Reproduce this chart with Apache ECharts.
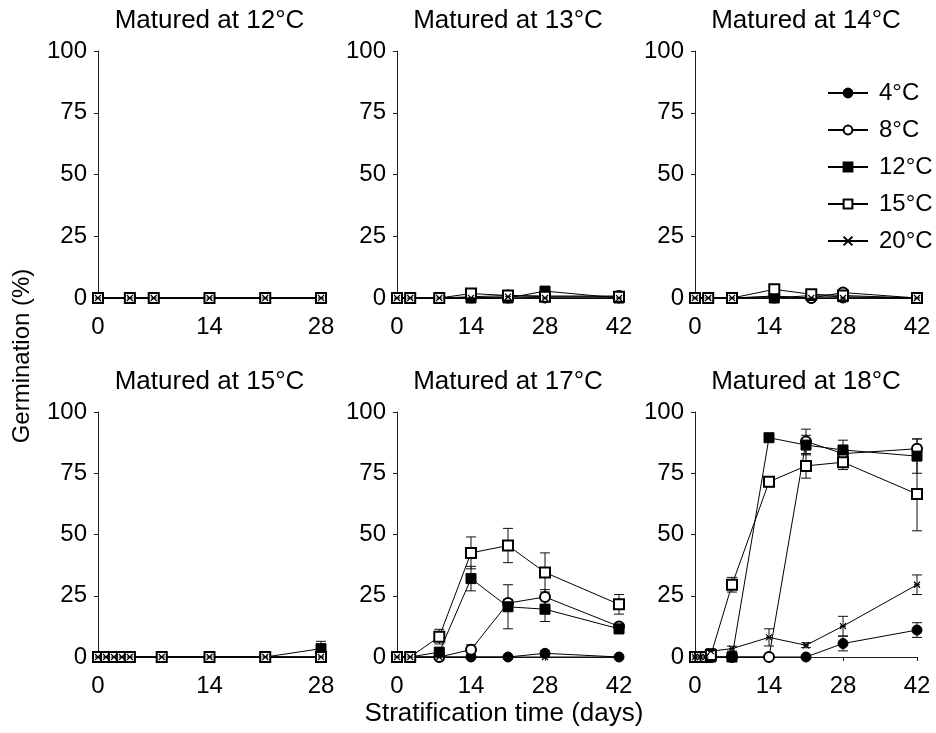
<!DOCTYPE html>
<html>
<head>
<meta charset="utf-8">
<script src="https://cdn.jsdelivr.net/npm/echarts@6/dist/echarts.min.js"></script>
<style>
  html, body { margin: 0; padding: 0; background: #fff; }
  #chart { width: 936px; height: 733px; }
</style>
</head>
<body>
<div id="chart"></div>
<script>
// Stratification temperatures (one line per temperature in every panel)
const tempNames = ['4°C', '8°C', '12°C', '15°C', '20°C'];

// Panel titles (maturation temperature)
const panelTitles = ['Matured at 12°C', 'Matured at 13°C', 'Matured at 14°C',
                     'Matured at 15°C', 'Matured at 17°C', 'Matured at 18°C'];
const xMaxes = [28, 42, 42, 28, 42, 42];
const xTicks = [0, 14, 28, 42];
const yTicks = [0, 25, 50, 75, 100];

// Matured at 12°C
const days12 = [0, 4, 7, 14, 21, 28];
const mean12 = [
  [0, 0, 0, 0, 0, 0],
  [0, 0, 0, 0, 0, 0],
  [0, 0, 0, 0, 0, 0],
  [0, 0, 0, 0, 0, 0],
  [0, 0, 0, 0, 0, 0]
];
const err12 = [
  [0, 0, 0, 0, 0, 0],
  [0, 0, 0, 0, 0, 0],
  [0, 0, 0, 0, 0, 0],
  [0, 0, 0, 0, 0, 0],
  [0, 0, 0, 0, 0, 0]
];

// Matured at 13°C
const days13 = [0, 2.5, 8, 14, 21, 28, 42];
const mean13 = [
  [0, 0, 0, 0, 0, 0, 0],
  [0, 0, 0, 0.5, 1, 0.8, 0.8],
  [0, 0, 0, 0, 0, 2.8, 0],
  [0, 0, 0, 1.8, 1, 0.5, 0.5],
  [0, 0, 0, 0, 0.5, 0, 0]
];
const err13 = [
  [0, 0, 0, 0, 0, 0, 0],
  [0, 0, 0, 0, 0, 0.8, 0],
  [0, 0, 0, 0, 0, 1, 0],
  [0, 0, 0, 1, 0.8, 0, 0],
  [0, 0, 0, 0, 0, 0, 0]
];

// Matured at 14°C
const days14 = [0, 2.5, 7, 15, 22, 28, 42];
const mean14 = [
  [0, 0, 0, 0, 0, 0, 0],
  [0, 0, 0, 0.8, 0, 2.2, 0],
  [0, 0, 0, 0, 1, 0.5, 0],
  [0, 0, 0, 3.5, 1.5, 1, 0],
  [0, 0, 0, 0.5, 0, 0, 0]
];
const err14 = [
  [0, 0, 0, 0, 0, 0, 0],
  [0, 0, 0, 0, 0, 1.2, 0],
  [0, 0, 0, 0, 0, 0, 0],
  [0, 0, 0, 1.5, 0, 0, 0],
  [0, 0, 0, 0, 0, 0, 0]
];

// Matured at 15°C
const days15 = [0, 1, 2, 3, 4, 8, 14, 21, 28];
const mean15 = [
  [0, 0, 0, 0, 0, 0, 0, 0, 0],
  [0, 0, 0, 0, 0, 0, 0, 0, 0],
  [0, 0, 0, 0, 0, 0, 0, 0, 3.4],
  [0, 0, 0, 0, 0, 0, 0, 0, 0],
  [0, 0, 0, 0, 0, 0, 0, 0, 0]
];
const err15 = [
  [0, 0, 0, 0, 0, 0, 0, 0, 0],
  [0, 0, 0, 0, 0, 0, 0, 0, 0],
  [0, 0, 0, 0, 0, 0, 0, 0, 3],
  [0, 0, 0, 0, 0, 0, 0, 0, 0],
  [0, 0, 0, 0, 0, 0, 0, 0, 0]
];

// Matured at 17°C
const days17 = [0, 2.5, 8, 14, 21, 28, 42];
const mean17 = [
  [0, 0, 0, 0, 0, 1.5, 0],
  [0, 0, 0, 3, 22, 24.5, 12.5],
  [0, 0, 2, 32, 20.5, 19.5, 11.5],
  [0, 0, 8.3, 42.5, 45.5, 34.5, 21.5],
  [0, 0, 0, 0, 0, 0, 0]
];
const err17 = [
  [0, 0, 0, 0, 0, 1, 0],
  [0, 0, 0, 2, 1.5, 3, 1],
  [0, 0, 1, 5, 9, 5, 2],
  [0, 0, 3, 6.5, 7, 8, 4],
  [0, 0, 0, 0, 0, 1, 0]
];

// Matured at 18°C
const days18 = [0, 1, 2, 3, 7, 14, 21, 28, 42];
const mean18 = [
  [0, 0, 0, 0, 0, 0, 0, 5.5, 11],
  [0, 0, 0, 0, 0, 0, 88, 83, 85],
  [0, 0, 0, 0, 0, 89.5, 86.5, 84.5, 82],
  [0, 0, 0, 0.8, 29.5, 71.5, 78, 79.5, 66.5],
  [0, 0, 0, 2.4, 3.4, 8, 4.8, 12.6, 29.5]
];
const err18 = [
  [0, 0, 0, 0, 0, 0, 0, 3, 3],
  [0, 0, 0, 0, 0, 0, 5, 3, 4],
  [0, 0, 0, 0, 0, 1.5, 4, 4, 7],
  [0, 0, 0, 0, 3, 2, 5, 3, 15],
  [0, 0, 0, 1, 1, 3.5, 1, 4, 4]
];

const panels = [
  { days: days12, mean: mean12, err: err12 },
  { days: days13, mean: mean13, err: err13 },
  { days: days14, mean: mean14, err: err14 },
  { days: days15, mean: mean15, err: err15 },
  { days: days17, mean: mean17, err: err17 },
  { days: days18, mean: mean18, err: err18 }
];

const FONT = '"Liberation Sans", Arial, Helvetica, sans-serif';
const AXIS_COLOR = '#222';

// Marker for each stratification temperature
const starPath = 'path://M0,0L10,10M10,0L0,10M0,5L10,5';
const symbolFor = ['circle', 'emptyCircle', 'rect', 'emptyRect', starPath];
const sizeFor = [10, 10, 10, 10, 6];

// Grid boxes: three columns, two rows
const colBoxes = [{ left: 98, width: 223 }, { left: 397, width: 222 }, { left: 695, width: 222 }];
const rowBoxes = [{ top: 51, height: 247 }, { top: 412, height: 245 }];

const grids = [], xAxes = [], yAxes = [], series = [], graphics = [];

panels.forEach((p, gi) => {
  const col = colBoxes[gi % 3], row = rowBoxes[Math.floor(gi / 3)];
  grids.push({ left: col.left, top: row.top, width: col.width, height: row.height, containLabel: false });

  xAxes.push({
    gridIndex: gi, type: 'value', min: 0, max: xMaxes[gi], interval: 14,
    axisLine: { show: true, onZero: false, lineStyle: { color: AXIS_COLOR, width: 1 } },
    axisTick: { show: true, length: 4, lineStyle: { color: AXIS_COLOR } },
    splitLine: { show: false },
    axisLabel: {
      color: '#000', fontSize: 24, fontFamily: FONT, margin: 17,
      formatter: v => (xTicks.indexOf(v) >= 0 ? String(v) : '')
    }
  });
  yAxes.push({
    gridIndex: gi, type: 'value', min: 0, max: 100, interval: 25,
    axisLine: { show: true, lineStyle: { color: AXIS_COLOR, width: 1 } },
    axisTick: { show: true, length: 4, lineStyle: { color: AXIS_COLOR } },
    splitLine: { show: false },
    axisLabel: {
      color: '#000', fontSize: 24, fontFamily: FONT, margin: 11,
      formatter: v => (yTicks.indexOf(v) >= 0 ? String(v) : '')
    }
  });

  // Error bars drawn beneath the lines
  tempNames.forEach((name, si) => {
    const rows = [];
    p.days.forEach((d, i) => {
      if (p.err[si][i] > 0) rows.push([d, p.mean[si][i], p.err[si][i]]);
    });
    if (!rows.length) return;
    series.push({
      type: 'custom', name: name + ' SE', xAxisIndex: gi, yAxisIndex: gi, z: 1,
      silent: true, clip: false,
      encode: { x: 0, y: 1 },
      data: rows,
      renderItem: (params, api) => {
        const x = api.value(0), y = api.value(1), e = api.value(2);
        const hi = api.coord([x, Math.min(100, y + e)]);
        const lo = api.coord([x, Math.max(0, y - e)]);
        const hw = 5;
        const st = { stroke: '#111', lineWidth: 1 };
        return {
          type: 'group',
          children: [
            { type: 'line', shape: { x1: hi[0], y1: hi[1], x2: lo[0], y2: lo[1] }, style: st },
            { type: 'line', shape: { x1: hi[0] - hw, y1: hi[1], x2: hi[0] + hw, y2: hi[1] }, style: st },
            { type: 'line', shape: { x1: lo[0] - hw, y1: lo[1], x2: lo[0] + hw, y2: lo[1] }, style: st }
          ]
        };
      }
    });
  });

  // Mean germination lines
  tempNames.forEach((name, si) => {
    series.push({
      type: 'line', name: name, xAxisIndex: gi, yAxisIndex: gi, z: 3,
      clip: false, animation: false,
      data: p.days.map((d, i) => [d, p.mean[si][i]]),
      symbol: symbolFor[si], symbolSize: sizeFor[si], showSymbol: true,
      lineStyle: { color: '#000', width: 1 },
      itemStyle: si === 4
        ? { color: '#000', borderColor: '#000', borderWidth: 1.2 }
        : { color: '#000', borderColor: '#000', borderWidth: 1 },
      emphasis: { disabled: true }
    });
  });

  graphics.push({
    type: 'text', x: col.left + col.width / 2, y: row.top - 30,
    style: { text: panelTitles[gi], fill: '#000', font: '26px ' + FONT, align: 'center', verticalAlign: 'middle' }
  });
});

graphics.push({
  type: 'text', x: 22, y: 356, rotation: Math.PI / 2,
  style: { text: 'Germination (%)', fill: '#000', font: '24px ' + FONT, align: 'center', verticalAlign: 'middle' }
});
graphics.push({
  type: 'text', x: 504, y: 714,
  style: { text: 'Stratification time (days)', fill: '#000', font: '26px ' + FONT, align: 'center', verticalAlign: 'middle' }
});

const chart = echarts.init(document.getElementById('chart'), null, { renderer: 'canvas' });
chart.setOption({
  animation: false,
  backgroundColor: '#fff',
  grid: grids,
  xAxis: xAxes,
  yAxis: yAxes,
  legend: {
    data: tempNames, orient: 'vertical', left: 822, top: 76,
    itemWidth: 40, itemHeight: 11, itemGap: 13,
    textStyle: { color: '#000', fontSize: 24, fontFamily: FONT, padding: [0, 0, 0, 6] },
    selectedMode: false
  },
  graphic: graphics,
  series: series
});
</script>
</body>
</html>
